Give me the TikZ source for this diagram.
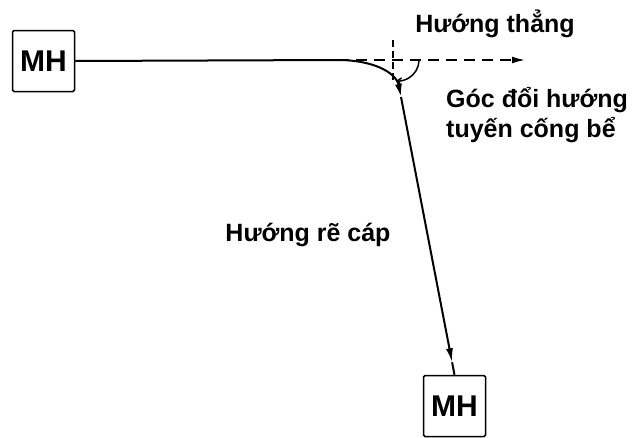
\documentclass[tikz,border=0pt]{standalone}
\usepackage{fontspec}
\setmainfont{Liberation Sans}
\usetikzlibrary{arrows.meta,calc}
\tikzset{
    mhbox/.style={draw,line width=1.5pt,rounded corners=1.5pt,minimum width=62pt,minimum height=61pt,inner sep=0pt,font=\fontsize{30}{30}\selectfont\bfseries},
    cable/.style={line width=2pt},
    guide/.style={line width=1.6pt,dash pattern=on 11pt off 7pt},
    label/.style={font=\fontsize{25}{30}\selectfont\bfseries,inner sep=0pt}
}
\begin{document}
\begin{tikzpicture}[x=1pt,y=-1pt]
    \useasboundingbox (0,0) rectangle (640,437);
    \node[mhbox] (mh1) at (43.5,61) {MH};
    \node[mhbox] (mh2) at (454.5,406) {MH};
    \coordinate (turn) at (338,60);
    \coordinate (bend) at (401,97);
    \coordinate (straight) at (525,60);
    \coordinate (tip) at ($(bend)!0.955!(mh2.north)$);
    % cable route
    \draw[cable] (mh1.east) -- (turn);
    \draw[cable,-{Latex[length=13pt,width=7pt]}] (turn) .. controls (372,60) and (396,72) .. (bend);
    \draw[cable,-{Latex[length=14pt,width=7pt]}] (bend) -- (tip);
    \draw[cable] (tip) -- (mh2.north);
    % straight direction and angle
    \draw[guide,-{Latex[length=13pt,width=7pt]}] (turn) -- (straight);
    \draw[guide,dash pattern=on 7pt off 4pt] (393,40) -- (393,84);
    \draw[line width=1.5pt,-{Straight Barb[length=4pt,width=7pt]}] (419,60) arc[start angle=0,end angle=95,radius=21];
    % labels
    \node[label] (straightlbl) at (495,24) {Hướng thẳng};
    \node[label,align=left,anchor=west] (anglelbl) at (446,115) {Góc đổi hướng\\tuyến cống bể};
    \node[label] (branchlbl) at (308,235) {Hướng rẽ cáp};
\end{tikzpicture}
\end{document}
